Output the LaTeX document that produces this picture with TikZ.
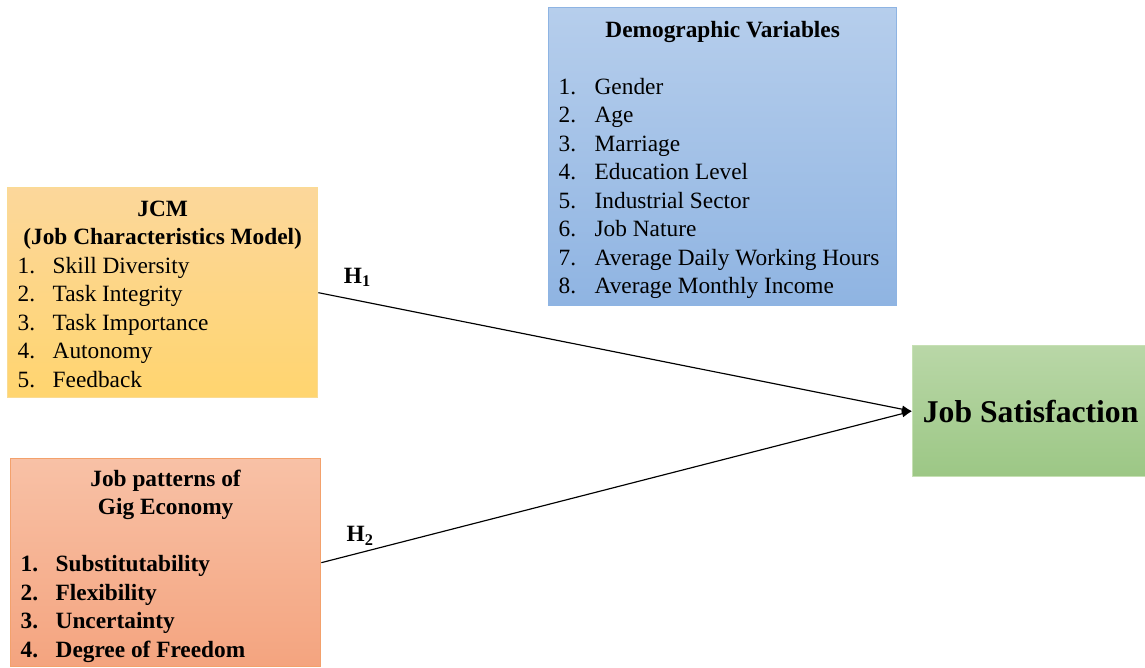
\documentclass[tikz,border=0pt]{standalone}
\usepackage{fontspec}
\setmainfont{Liberation Serif}
\usetikzlibrary{arrows.meta}
\usepackage{array}

\definecolor{demotop}{HTML}{B6CEEC}
\definecolor{demobot}{HTML}{8FB4E2}
\definecolor{demoline}{HTML}{8EB4E3}
\definecolor{jcmtop}{HTML}{FCD79B}
\definecolor{jcmbot}{HTML}{FFD56F}
\definecolor{jcmline}{HTML}{FADB93}
\definecolor{gigtop}{HTML}{F8C1A6}
\definecolor{gigbot}{HTML}{F4A47F}
\definecolor{gigline}{HTML}{F3A16C}
\definecolor{sattop}{HTML}{B9D7A7}
\definecolor{satbot}{HTML}{9CC785}
\definecolor{satline}{HTML}{C6E0B4}

% move the box text a little down, keeping its size
\newcommand\lowered[1]{\raisebox{-2pt}[\height][\depth]{#1}}
\newcommand\head[1]{\multicolumn{2}{@{}c@{}}{\textbf{#1}}}

\begin{document}
\begin{tikzpicture}[x=0.6pt,
					y=-0.6pt,
					auto,
					thick,
					box/.style={rectangle,draw,inner sep=0pt,anchor=north west,
						font=\fontsize{14}{17.1}\selectfont},
					conn/.style={-{Latex[length=6pt,width=4.5pt]},line width=0.7pt},
					hyp/.style={font=\fontsize{14}{16}\selectfont\bfseries,inner sep=2pt,anchor=south}]

  \useasboundingbox (0,0) rectangle (1145,667);

  \node[box, top color=demotop, bottom color=demobot, draw=demoline,
        minimum width=208.8pt, minimum height=178.8pt] (demo) at (548,7) {\lowered{%
    \begin{tabular}{@{}p{21.6pt}@{}p{175.2pt}@{}}
      \head{Demographic Variables}\\
      \\
      1. & Gender\\
      2. & Age\\
      3. & Marriage\\
      4. & Education Level\\
      5. & Industrial Sector\\
      6. & Job Nature\\
      7. & Average Daily Working Hours\\
      8. & Average Monthly Income
    \end{tabular}}};

  \node[box, top color=jcmtop, bottom color=jcmbot, draw=jcmline,
        minimum width=186pt, minimum height=126pt] (jcm) at (7,187) {\lowered{%
    \begin{tabular}{@{}p{21pt}@{}p{153pt}@{}}
      \head{JCM}\\
      \head{(Job Characteristics Model)}\\
      1. & Skill Diversity\\
      2. & Task Integrity\\
      3. & Task Importance\\
      4. & Autonomy\\
      5. & Feedback
    \end{tabular}}};

  \node[box, top color=gigtop, bottom color=gigbot, draw=gigline,
        minimum width=186pt, minimum height=124.8pt] (gig) at (10,458) {\lowered{%
    \begin{tabular}{@{}p{21pt}@{}p{153pt}@{}}
      \head{Job patterns of}\\
      \head{Gig Economy}\\
      \\
      \textbf{1.} & \textbf{Substitutability}\\
      \textbf{2.} & \textbf{Flexibility}\\
      \textbf{3.} & \textbf{Uncertainty}\\
      \textbf{4.} & \textbf{Degree of Freedom}
    \end{tabular}}};

  \node[box, top color=sattop, bottom color=satbot, draw=satline,
        minimum width=141.6pt, minimum height=78.6pt,
        font=\fontsize{19}{22}\selectfont\bfseries] (sat) at (912,345) {Job Satisfaction};

  \path[every node/.style={hyp}]
    (jcm.east) edge[conn] node[pos=0.066,yshift=5.8pt] {H\textsubscript{1}} (sat.west)
    (gig.east) edge[conn] node[pos=0.066,yshift=2.2pt] {H\textsubscript{2}} (sat.west);
\end{tikzpicture}
\end{document}
